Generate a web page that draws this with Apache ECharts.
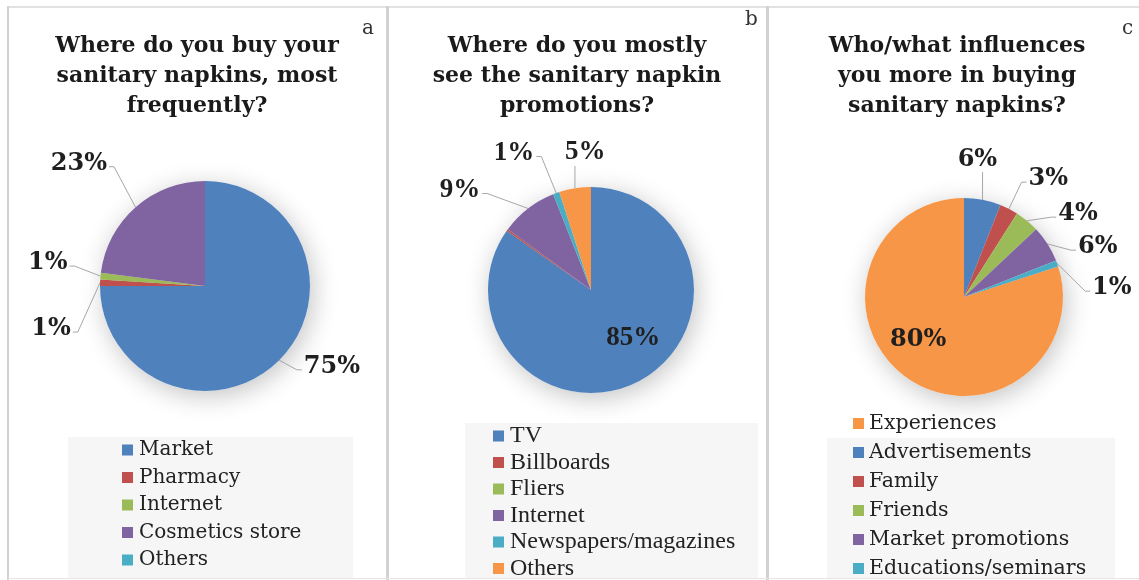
<!DOCTYPE html>
<html>
<head>
<meta charset="utf-8">
<script src="https://cdn.jsdelivr.net/npm/echarts@6/dist/echarts.min.js"></script>
<style>
  html, body { margin: 0; padding: 0; background: #fff; width: 1139px; height: 580px; overflow: hidden; }
  .panel { position: absolute; top: 0; height: 640px; }
  #pa { left: 8px; width: 380px; }
  #pb { left: 388px; width: 380px; }
  #pc { left: 768px; width: 371px; }
  .rule { position: absolute; background: #d2d2d2; }
</style>
</head>
<body>
<div class="rule" style="left:8px;top:6px;width:1131px;height:2px;background:#e2e2e2"></div>
<div class="rule" style="left:7px;top:6px;width:2px;height:574px"></div>
<div class="rule" style="left:386px;top:6px;width:3px;height:574px"></div>
<div class="rule" style="left:766px;top:6px;width:3px;height:574px"></div>
<div class="rule" style="left:8px;top:578px;width:1131px;height:1px;background:#e6e6e6"></div>
<div id="pa" class="panel"></div>
<div id="pb" class="panel"></div>
<div id="pc" class="panel"></div>
<script>
// Survey answers, in percent
const buyCategories = ['Market', 'Pharmacy', 'Internet', 'Cosmetics store', 'Others'];
const buyValues = [75, 1, 1, 23, 0];

const promoCategories = ['TV', 'Billboards', 'Fliers', 'Internet', 'Newspapers/magazines', 'Others'];
const promoValues = [85, 0.3, 0, 9, 1, 5];

const influenceCategories = ['Experiences', 'Advertisements', 'Family', 'Friends', 'Market promotions', 'Educations/seminars'];
const influenceValues = [80, 6, 3, 4, 6, 1];

// Office 2010 palette
const BLUE = '#4F81BD', RED = '#C0504D', GREEN = '#9BBB59', PURPLE = '#8064A2', TEAL = '#4BACC6', ORANGE = '#F79646';

const CAMBRIA = '"DejaVu Serif", serif';
const TIMES = '"Liberation Serif", "Times New Roman", serif';

// Move a label by (dx, dy) and redraw its leader from the slice edge
// to the side of the label that faces the slice.
function leaderLayout(nudges) {
  return p => {
    const n = nudges[p.dataIndex];
    if (!n) return {};
    const pts = p.labelLinePoints;
    if (!pts || !pts.length) return { dx: n[0], dy: n[1] };
    const start = pts[0];
    const r = p.labelRect;
    const x0 = r.x + n[0], y0 = r.y + n[1], x1 = x0 + r.width, y1 = y0 + r.height;
    const cy = (y0 + y1) / 2;
    let bend, end;
    if (start[0] < x0) {
      end = [x0 - 2, cy + 3]; bend = [end[0] - 5, cy + 3];
    } else if (start[0] > x1) {
      end = [x1 + 2, cy + 3]; bend = [end[0] + 5, cy + 3];
    } else {
      end = [start[0], start[1] > cy ? y1 : y0]; bend = end;
    }
    return { dx: n[0], dy: n[1], labelLinePoints: [start, bend, end] };
  };
}

function buildPanel(el, cfg) {
  const chart = echarts.init(document.getElementById(el), null, { renderer: 'canvas' });
  const data = cfg.names.map((n, i) => {
    const item = { name: n, value: cfg.values[i], itemStyle: { color: cfg.colors[i] } };
    const over = cfg.labelOverrides && cfg.labelOverrides[i];
    item.label = { show: cfg.values[i] >= 0.5 };
    if (over) Object.assign(item.label, over);
    if (over && over.position === 'inside') item.labelLine = { show: false };
    return item;
  });
  const shadowData = cfg.names.map((n, i) => ({ name: n, value: cfg.values[i] }));
  chart.setOption({
    animation: false,
    graphic: [
      {
        type: 'rect', z: -10, silent: true,
        shape: cfg.legendBox,
        style: { fill: '#f6f6f6' }
      },
      {
        type: 'text', silent: true,
        x: cfg.titleX, y: cfg.titleTop,
        style: {
          text: cfg.title, align: 'center', verticalAlign: 'top',
          font: 'bold 22px ' + CAMBRIA, lineHeight: 30, fill: '#1a1a1a'
        }
      },
      {
        type: 'text', silent: true,
        x: cfg.tagPos[0], y: cfg.tagPos[1],
        style: { text: cfg.tag, font: '20px ' + CAMBRIA, fill: '#333', verticalAlign: 'top' }
      }
    ],
    legend: {
      orient: 'vertical',
      left: cfg.legendPos[0], top: cfg.legendPos[1],
      icon: 'rect', itemWidth: 11, itemHeight: 11,
      itemGap: cfg.legendGap, padding: 0,
      selectedMode: false,
      data: cfg.names,
      textStyle: {
        fontFamily: cfg.legendFont, fontSize: cfg.legendSize, lineHeight: cfg.legendLine,
        color: '#222', padding: [0, 0, 0, cfg.legendTextPad]
      }
    },
    series: [
      {
        type: 'pie',
        z: 3,
        center: cfg.center,
        radius: cfg.radius,
        startAngle: cfg.startAngle,
        clockwise: true,
        avoidLabelOverlap: true,
        itemStyle: { borderWidth: 0 },
        label: {
          position: 'outside',
          overflow: 'none',
          formatter: p => p.value + '%',
          fontFamily: cfg.labelFont, fontWeight: 'bold', fontSize: cfg.labelSize,
          color: '#1f1f1f'
        },
        labelLine: {
          show: true, length: cfg.lineLen[0], length2: cfg.lineLen[1],
          lineStyle: { color: '#a6a6a6', width: 1 }
        },
        labelLayout: leaderLayout(cfg.nudges || {}),
        emphasis: { disabled: true },
        data: data
      },
      {
        // soft drop shadow behind the pie
        type: 'pie',
        z: 1,
        silent: true,
        center: cfg.center,
        radius: cfg.radius,
        startAngle: cfg.startAngle,
        label: { show: false },
        labelLine: { show: false },
        itemStyle: {
          color: '#ffffff',
          shadowBlur: 26, shadowColor: 'rgba(0,0,0,0.24)', shadowOffsetX: 3, shadowOffsetY: 5
        },
        emphasis: { disabled: true },
        data: shadowData
      }
    ]
  });
}

buildPanel('pa', {
  title: 'Where do you buy your\nsanitary napkins, most\nfrequently?',
  titleX: 189, titleTop: 31, tag: 'a', tagPos: [354, 19],
  names: buyCategories, values: buyValues,
  colors: [BLUE, RED, GREEN, PURPLE, TEAL],
  center: [197, 286], radius: 105, startAngle: 90,
  labelFont: CAMBRIA, labelSize: 24, lineLen: [22, 12],
  nudges: { 0: [-8, -9], 1: [4, 29], 2: [1, -11], 3: [3, -27] },
  legendPos: [114, 440], legendGap: 7.5, legendFont: CAMBRIA, legendSize: 20, legendLine: 20, legendTextPad: 1,
  legendBox: { x: 60, y: 437, width: 285, height: 141 }
});

buildPanel('pb', {
  title: 'Where do you mostly\nsee the sanitary napkin\npromotions?',
  titleX: 189, titleTop: 31, tag: 'b', tagPos: [357, 10],
  names: promoCategories, values: promoValues,
  colors: [BLUE, RED, GREEN, PURPLE, TEAL, ORANGE],
  center: [203, 290], radius: 103, startAngle: 90,
  labelFont: TIMES, labelSize: 27, lineLen: [22, 12],
  labelOverrides: { 0: { position: 'inside', offset: [17, 0] } },
  nudges: { 3: [8, -34], 4: [38, -42], 5: [51, -14] },
  legendPos: [105, 424], legendGap: 2.5, legendFont: TIMES, legendSize: 24, legendLine: 24, legendTextPad: 1,
  legendBox: { x: 77, y: 423, width: 293, height: 155 }
});

buildPanel('pc', {
  title: 'Who/what influences\nyou more in buying\nsanitary napkins?',
  titleX: 189, titleTop: 31, tag: 'c', tagPos: [354, 19],
  names: influenceCategories, values: influenceValues,
  colors: [ORANGE, BLUE, RED, GREEN, PURPLE, TEAL],
  center: [196, 297], radius: 99, startAngle: 18,
  labelFont: CAMBRIA, labelSize: 24, lineLen: [22, 12],
  labelOverrides: { 0: { position: 'inside', offset: [-15, 0] } },
  nudges: { 1: [-46, -18], 2: [-26, -25], 3: [-19, -16], 4: [-12, -9], 5: [-4, 6] },
  legendPos: [85, 413], legendGap: 8, legendFont: CAMBRIA, legendSize: 20.5, legendLine: 20, legendTextPad: 0,
  legendBox: { x: 59, y: 438, width: 288, height: 140 }
});
</script>
</body>
</html>
